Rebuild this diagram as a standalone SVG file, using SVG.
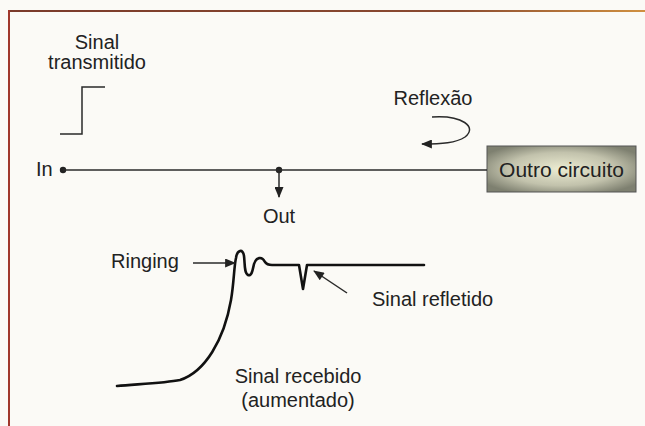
<svg xmlns="http://www.w3.org/2000/svg" width="645" height="426" viewBox="0 0 645 426">
<defs>
<style>
text{font-family:"Liberation Sans",Arial,sans-serif;font-size:20px;fill:#222}
.ln{fill:none;stroke:#2a2a2a;stroke-width:1.5}
.sig{fill:none;stroke:#111;stroke-width:2.6;stroke-linejoin:round;stroke-linecap:round}
</style>
<radialGradient id="boxg" cx="0.5" cy="0.5" r="0.6">
<stop offset="0" stop-color="#ececd2"/>
<stop offset="0.6" stop-color="#c2c2ac"/>
<stop offset="1" stop-color="#7e8070"/>
</radialGradient>
<linearGradient id="topb" x1="0" y1="0" x2="1" y2="0">
<stop offset="0" stop-color="#7a3a2a"/>
<stop offset="0.7" stop-color="#8a4a30"/>
<stop offset="1" stop-color="#d09040"/>
</linearGradient>
<marker id="arr" viewBox="0 0 12 10" refX="11" refY="5" markerWidth="12" markerHeight="9" markerUnits="userSpaceOnUse" orient="auto">
<path d="M0,0 L12,5 L0,10 z" fill="#222"/>
</marker>
</defs>
<rect x="0" y="0" width="645" height="426" fill="#fbfaf6"/>
<rect x="8" y="10" width="637" height="2" fill="url(#topb)"/>
<rect x="8" y="10" width="2" height="416" fill="#a0382c"/>

<g id="sinal-transmitido">
<text x="97" y="49" text-anchor="middle">Sinal</text>
<text x="97" y="69" text-anchor="middle">transmitido</text>
<polyline class="ln" points="60,134 82,134 82,87 105,87"/>
</g>

<g id="reflexao">
<text x="433" y="105" text-anchor="middle">Reflexão</text>
</g>

<g id="in">
<text x="36" y="176">In</text>
<circle cx="63" cy="170" r="3.2" fill="#222"/>
</g>

<g id="out">
<circle cx="279" cy="170" r="3.2" fill="#222"/>
<text x="279" y="223" text-anchor="middle">Out</text>
</g>

<g id="outro-circuito">
<rect x="487" y="146" width="149" height="46" fill="url(#boxg)" stroke="#555" stroke-width="1"/>
<text x="561.5" y="177" text-anchor="middle" style="font-size:21px">Outro circuito</text>
</g>

<g id="sinal-recebido">
<path class="sig" d="M117,386 C140,384 165,383 180,380 C205,372 224,340 231,300 C234,283 234,266 236,258 C237,250 243,248 244,256 C245,263 244,273 248,275 C252,277 253,268 254,264 C256,257 262,256 265,262 C267,265 269,265 272,265 L299,265 L303,289 L307,265 L424,265"/>
<text x="298" y="383" text-anchor="middle">Sinal recebido</text>
<text x="298" y="407" text-anchor="middle">(aumentado)</text>
</g>

<g id="ringing">
<text x="111" y="268">Ringing</text>
</g>

<g id="sinal-refletido">
<text x="372" y="306">Sinal refletido</text>
</g>

<g id="connectors">
<line class="ln" x1="63" y1="170" x2="487" y2="170"/>
<line class="ln" x1="279" y1="170" x2="279" y2="197" marker-end="url(#arr)"/>
<path class="ln" d="M432,117 C462,115 478,127 465,137 C456,143 442,144 422,144" marker-end="url(#arr)"/>
<line class="ln" x1="193" y1="263" x2="235" y2="263" marker-end="url(#arr)"/>
<line class="ln" x1="347" y1="293" x2="314" y2="271" marker-end="url(#arr)"/>
</g>
</svg>
